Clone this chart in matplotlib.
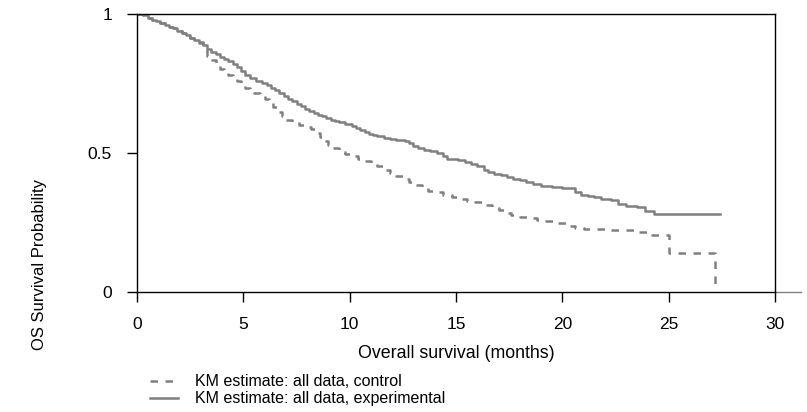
import matplotlib
matplotlib.use("Agg")
import matplotlib.pyplot as plt
from matplotlib.lines import Line2D

plt.rcParams['font.family'] = ['Liberation Sans', 'DejaVu Sans']

# KM estimate, experimental arm (step times in months, survival after step)
t_exp = [0, 0.3, 0.5, 0.7, 0.9, 1.1, 1.3, 1.5, 1.7, 1.9, 2.1, 2.3, 2.5, 2.7, 2.9,
         3.1, 3.3, 3.5, 3.7, 3.9, 4.1, 4.3, 4.5, 4.7, 4.9, 5.1, 5.3, 5.6, 5.9,
         6.1, 6.3, 6.5, 6.7, 6.9, 7.1, 7.3, 7.5, 7.7, 7.9, 8.1, 8.3, 8.5, 8.7,
         8.9, 9.1, 9.3, 9.5, 9.8, 10.1, 10.3, 10.5, 10.7, 10.9, 11.1, 11.3, 11.6,
         11.9, 12.2, 12.6, 12.8, 13.0, 13.2, 13.5, 13.8, 14.1, 14.4, 14.6, 15.1,
         15.4, 15.7, 16.0, 16.3, 16.5, 16.8, 17.1, 17.4, 17.7, 18.0, 18.3, 18.6,
         19.0, 19.5, 20.0, 20.6, 20.9, 21.2, 21.5, 21.8, 22.3, 22.6, 23.0, 23.5,
         23.9, 24.3, 27.4]
s_exp = [1.0, 0.995, 0.985, 0.98, 0.975, 0.968, 0.962, 0.955, 0.948, 0.94, 0.932,
         0.925, 0.915, 0.907, 0.898, 0.888, 0.875, 0.865, 0.855, 0.845, 0.838,
         0.83, 0.82, 0.808, 0.795, 0.78, 0.768, 0.758, 0.752, 0.745, 0.735, 0.725,
         0.716, 0.705, 0.695, 0.688, 0.678, 0.67, 0.66, 0.652, 0.645, 0.638, 0.632,
         0.627, 0.62, 0.616, 0.612, 0.606, 0.598, 0.59, 0.583, 0.577, 0.57, 0.565,
         0.56, 0.555, 0.55, 0.547, 0.543, 0.535, 0.525, 0.518, 0.512, 0.506, 0.5,
         0.49, 0.48, 0.475, 0.468, 0.46, 0.452, 0.44, 0.43, 0.425, 0.42, 0.413,
         0.408, 0.402, 0.396, 0.39, 0.38, 0.376, 0.374, 0.358, 0.35, 0.345, 0.34,
         0.335, 0.33, 0.315, 0.31, 0.305, 0.292, 0.282, 0.282]

# KM estimate, control arm
t_ctl = [0, 0.3, 0.5, 0.7, 0.9, 1.1, 1.3, 1.5, 1.7, 1.9, 2.1, 2.3, 2.5, 2.7, 2.9,
         3.1, 3.3, 3.5, 3.7, 3.9, 4.1, 4.3, 4.5, 4.7, 4.9, 5.1, 5.3, 5.5, 5.8,
         6.0, 6.2, 6.4, 6.6, 6.8, 7.0, 7.3, 7.6, 7.9, 8.2, 8.4, 8.6, 8.8, 9.0,
         9.2, 9.5, 9.8, 10.1, 10.4, 10.7, 11.0, 11.3, 11.6, 11.9, 12.2, 12.5,
         12.8, 13.1, 13.4, 13.7, 14.0, 14.4, 14.8, 15.1, 15.5, 15.9, 16.3, 16.7,
         17.0, 17.3, 17.6, 18.0, 18.4, 18.8, 19.2, 19.7, 20.2, 20.6, 21.0, 22.2,
         23.4, 24.2, 25.0, 27.2]
s_ctl = [1.0, 0.995, 0.985, 0.98, 0.975, 0.968, 0.962, 0.955, 0.948, 0.94, 0.932,
         0.925, 0.915, 0.907, 0.895, 0.87, 0.85, 0.835, 0.818, 0.802, 0.79, 0.78,
         0.77, 0.76, 0.745, 0.735, 0.722, 0.715, 0.708, 0.695, 0.68, 0.665, 0.648,
         0.632, 0.62, 0.61, 0.60, 0.595, 0.585, 0.572, 0.558, 0.543, 0.53, 0.518,
         0.505, 0.497, 0.488, 0.48, 0.472, 0.463, 0.452, 0.44, 0.428, 0.418, 0.408,
         0.396, 0.385, 0.374, 0.365, 0.358, 0.35, 0.342, 0.335, 0.328, 0.322,
         0.314, 0.303, 0.295, 0.285, 0.277, 0.27, 0.265, 0.258, 0.254, 0.248,
         0.236, 0.23, 0.227, 0.223, 0.216, 0.206, 0.14, 0.02]

x_ticks = [0, 5, 10, 15, 20, 25, 30]
y_ticks = [0, 0.5, 1]
y_ticklabels = ['0', '0.5', '1']
legend_labels = ['KM estimate: all data, control', 'KM estimate: all data, experimental']

W, H = 807, 412
fig = plt.figure(figsize=(W / 100, H / 100), dpi=100)
ax = fig.add_axes([137 / W, 1 - 292 / H, (775 - 137) / W, (292 - 14) / H])

grey = '#808080'
ax.step(t_ctl, s_ctl, where='post', color=grey, lw=1.8, dashes=(3, 3))
ax.step(t_exp, s_exp, where='post', color=grey, lw=1.8)

ax.set_xlim(0, 30)
ax.set_ylim(0, 1)
ax.set_xticks(x_ticks)
ax.set_yticks(y_ticks)
ax.set_yticklabels(y_ticklabels)
ax.tick_params(direction='out', length=7, width=1, labelsize=12.5, pad=11)
for sp in ax.spines.values():
    sp.set_linewidth(1)
ax.plot([30, 31.2], [0, 0], color=grey, lw=1, clip_on=False)

ax.set_xlabel('Overall survival (months)', fontsize=12.8, labelpad=9)
fig.text(40 / W, 1 - 265 / H, 'OS Survival Probability', rotation=90,
         ha='center', va='center', fontsize=12)

# legend
rows = [(381, (3, 3)), (398, None)]
for (yp, dash), lab in zip(rows, legend_labels):
    yf = 1 - yp / H
    ln = Line2D([150 / W, 178 / W], [yf, yf], transform=fig.transFigure,
                color=grey, lw=1.8)
    if dash:
        ln.set_dashes(dash)
    fig.add_artist(ln)
    fig.text(195 / W, yf, lab, ha='left', va='center', fontsize=11.5)

fig.savefig('out.png', dpi=100)
